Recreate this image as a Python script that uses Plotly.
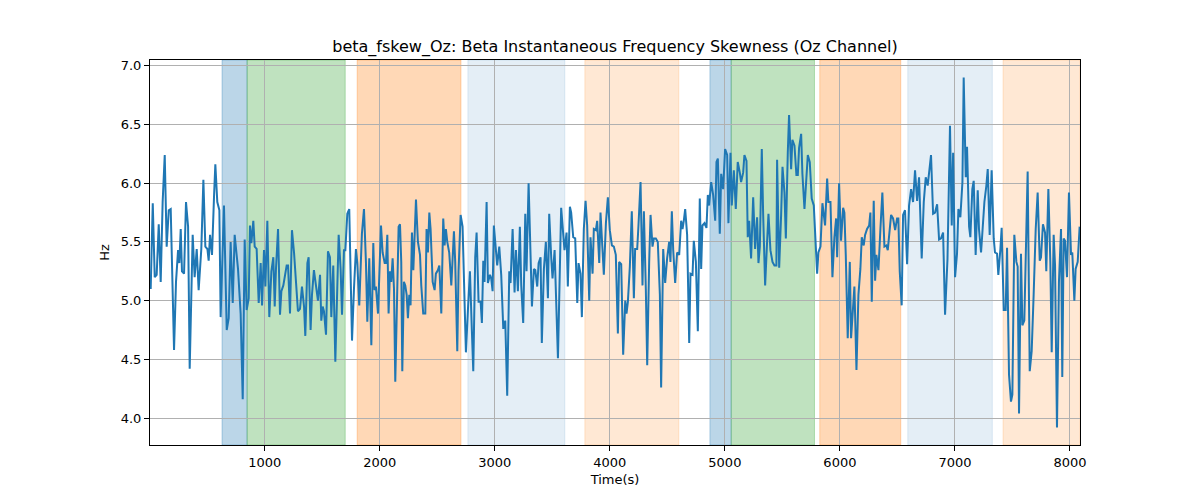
import plotly.graph_objects as go

# ---- data ----
time_s = [
    9, 27, 44, 61, 79, 96, 113, 131, 148, 166, 183, 200, 212, 229, 247, 258, 270, 281, 299, 316,
    334, 348, 374, 391, 409, 426, 449, 467, 484, 502, 513, 525, 542, 560, 571, 588, 606, 617, 646, 670,
    687, 704, 722, 739, 768, 791, 809, 826, 843, 861, 872, 884, 901, 913, 930, 948, 965,
    977, 994, 1006, 1023, 1040, 1058, 1075, 1087, 1098, 1116, 1133, 1145, 1162, 1179, 1191, 1203, 1220, 1237, 1255, 1272,
    1289, 1307, 1324, 1342, 1353, 1371, 1382, 1399, 1411, 1428, 1446, 1463, 1481, 1492, 1504, 1515, 1533, 1550, 1567, 1579,
    1596, 1614, 1643, 1660, 1672, 1689, 1701, 1718, 1735, 1759, 1776, 1793, 1805, 1822, 1845, 1863, 1880, 1892, 1909, 1927,
    1944, 1955,
    1967, 1985, 2011, 2025, 2043, 2054, 2066, 2077, 2089, 2100, 2112, 2124, 2135, 2153, 2164, 2176, 2187, 2196, 2210, 2222,
    2234, 2245, 2257, 2268, 2280, 2292, 2303, 2315, 2332, 2350, 2361, 2378, 2396, 2407, 2419, 2431, 2442, 2460, 2477, 2488,
    2506, 2518, 2535, 2552, 2564, 2575, 2587, 2604, 2622, 2645, 2656, 2674, 2685, 2703, 2720, 2749, 2767, 2784, 2801, 2813,
    2830, 2842, 2859, 2877, 2888, 2900, 2911, 2929, 2940,
    2958, 2969, 2981, 2992, 3010, 3021, 3039, 3056, 3074, 3091, 3108, 3126, 3137, 3155, 3172, 3184, 3201, 3218, 3230, 3247,
    3265, 3276, 3294, 3311, 3323, 3340, 3352, 3369, 3381, 3398, 3409, 3427, 3444, 3462, 3473, 3491, 3502, 3520, 3549, 3577,
    3595, 3606, 3624, 3635, 3653, 3664, 3682, 3699, 3717, 3728, 3745, 3757, 3774, 3789, 3803, 3821, 3832, 3850, 3861, 3879,
    3890, 3908, 3919, 3931,
    3948, 3966, 3983, 4000, 4018, 4035, 4052, 4070, 4081, 4099, 4116, 4134, 4145, 4157, 4174, 4191, 4209, 4220, 4238, 4249,
    4267, 4284, 4296, 4313, 4325, 4342, 4354, 4371, 4383, 4400, 4417, 4435, 4446, 4464, 4481, 4498, 4516, 4527, 4539, 4551,
    4568, 4585, 4603, 4620, 4632, 4643, 4655, 4672, 4690, 4701, 4719, 4730, 4748, 4765, 4782, 4794, 4805, 4823, 4840, 4852,
    4863, 4881, 4898, 4916, 4927,
    4939, 4956, 4968, 4985, 5002, 5020, 5031, 5049, 5060, 5078, 5095, 5112, 5130, 5141, 5159, 5170, 5188, 5199, 5211, 5228,
    5246, 5263, 5280, 5292, 5304, 5321, 5333, 5350, 5367, 5379, 5396, 5414, 5431, 5448, 5454, 5472, 5489, 5501, 5518, 5530,
    5547, 5558, 5576, 5587, 5605, 5622, 5634, 5645, 5663, 5674, 5692, 5703, 5721, 5738, 5755, 5773, 5790, 5802, 5813, 5831,
    5848, 5860, 5871, 5889, 5900, 5918, 5935, 5952, 5967, 5976,
    5993, 6010, 6028, 6039, 6051, 6068, 6086, 6097, 6115, 6126, 6144, 6161, 6178, 6190, 6207, 6219, 6236, 6254, 6265, 6277,
    6294, 6306, 6317, 6335, 6352, 6369, 6387, 6404, 6416, 6433, 6445, 6462, 6480, 6497, 6508, 6520, 6537, 6549, 6566, 6584,
    6601, 6619, 6636, 6653, 6671, 6688, 6711, 6729, 6746, 6763, 6781, 6792, 6810, 6827, 6845, 6862, 6879, 6897, 6914, 6935,
    6957,
    6972, 6984, 7001, 7018, 7030, 7047, 7065, 7076, 7094, 7105, 7123, 7134, 7151, 7163, 7180, 7198, 7209, 7227, 7238, 7256,
    7273, 7285, 7302, 7319, 7337, 7348, 7366, 7377, 7395, 7406, 7424, 7441, 7453, 7470, 7487, 7499, 7516, 7534, 7545, 7557,
    7574, 7586, 7603, 7615, 7632, 7650, 7667, 7684, 7702, 7719, 7737, 7748, 7765, 7783, 7794, 7812, 7829, 7841, 7858, 7870,
    7887, 7904, 7922, 7933, 7945, 7957, 7974, 7991, 8009, 8020, 8038, 8049, 8067, 8084,
]

fskew_hz = [
    5.10, 5.83, 5.20, 5.22, 5.65, 5.16, 5.84, 6.24, 5.46, 5.77, 5.78, 4.91, 4.58, 5.16, 5.43, 5.32, 5.61, 5.25, 5.23, 5.84,
    5.63, 4.42, 5.56, 5.20, 5.44, 5.09, 5.44, 6.03, 5.46, 5.44, 5.34, 5.56, 5.39, 5.90, 6.16, 5.84, 5.77, 4.86, 5.81, 4.75,
    4.85, 5.50, 4.98, 5.56, 5.27, 4.89, 4.16, 5.52, 4.92, 5.02, 5.64, 5.49, 5.68, 5.46, 5.44, 4.98, 5.32,
    4.96, 5.43, 5.12, 5.68, 4.86, 5.25, 5.37, 4.95, 5.27, 5.61, 4.88, 5.08, 5.13, 5.22, 5.30, 5.30, 4.89, 5.60, 5.41, 5.16,
    4.91, 4.93, 5.12, 4.95, 4.70, 5.32, 5.37, 4.75, 5.05, 5.26, 5.10, 5.00, 5.22, 4.83, 4.95, 4.91, 4.71, 5.42, 5.37, 4.86,
    5.30, 4.48, 5.56, 5.27, 4.88, 5.43, 5.43, 5.74, 5.78, 4.66, 5.10, 5.44, 5.32, 4.96, 5.57, 5.78, 5.33, 4.82, 5.36, 4.62,
    5.49, 5.09,
    5.12, 4.89, 5.64, 5.41, 5.32, 5.32, 5.56, 4.89, 5.25, 5.16, 5.36, 5.10, 4.31, 5.10, 5.63, 5.65, 5.33, 4.40, 5.16, 5.13,
    5.05, 4.85, 5.05, 4.96, 5.58, 5.26, 5.53, 5.86, 5.50, 5.39, 5.13, 4.89, 4.89, 5.61, 5.41, 5.75, 5.61, 5.16, 5.09, 5.23,
    5.26, 5.30, 4.89, 5.70, 5.47, 5.61, 5.50, 5.41, 5.13, 5.59, 5.33, 4.57, 5.25, 5.73, 5.63, 4.56, 4.93, 5.25, 4.74, 4.40,
    5.37, 5.58, 4.99, 4.99, 4.81, 5.34, 5.16, 5.84, 5.15,
    5.22, 5.19, 5.08, 5.64, 5.41, 5.30, 5.46, 5.22, 4.76, 4.83, 4.19, 5.25, 5.15, 5.61, 5.07, 5.43, 5.08, 5.63, 5.13, 4.81,
    5.74, 5.25, 6.00, 5.33, 4.95, 5.27, 5.26, 5.12, 5.32, 5.37, 4.64, 5.27, 5.50, 5.02, 5.74, 5.36, 5.19, 5.43, 4.51, 5.79,
    5.51, 5.43, 5.58, 5.12, 5.80, 5.75, 5.54, 5.53, 4.98, 5.32, 5.23, 4.86, 5.61, 5.85, 5.64, 5.00, 5.54, 5.23, 5.61, 5.60,
    5.68, 5.32, 5.75, 5.54,
    5.22, 5.66, 5.88, 5.60, 5.47, 5.46, 5.39, 4.72, 5.33, 5.31, 4.54, 5.00, 4.89, 4.99, 5.29, 5.76, 5.02, 5.44, 5.44, 5.64,
    6.01, 5.13, 5.76, 5.10, 4.45, 5.33, 5.73, 5.46, 5.53, 5.53, 5.50, 5.05, 4.26, 5.44, 5.15, 5.36, 5.50, 5.33, 5.76, 5.43,
    5.15, 5.41, 5.39, 5.68, 5.61, 5.68, 5.78, 5.56, 4.64, 5.23, 5.22, 5.51, 5.33, 4.74, 5.87, 5.27, 5.64, 5.66, 5.62, 5.90,
    5.81, 6.01, 5.90, 5.68, 6.18,
    6.21, 5.57, 6.08, 5.95, 6.29, 6.24, 5.66, 6.26, 5.81, 6.11, 5.78, 6.18, 6.09, 6.01, 6.09, 6.24, 6.19, 5.54, 5.68, 5.36,
    5.88, 5.44, 5.71, 5.32, 5.46, 6.29, 5.73, 5.13, 5.50, 5.74, 5.43, 5.33, 5.30, 5.30, 6.20, 5.28, 5.73, 6.14, 5.92, 5.53,
    6.26, 6.58, 6.12, 6.37, 6.32, 6.07, 6.07, 6.30, 6.42, 6.08, 5.78, 5.97, 6.24, 6.18, 5.87, 5.81, 5.43, 5.23, 5.41, 5.46,
    5.83, 5.70, 5.64, 6.04, 5.84, 5.84, 5.20, 5.54, 5.70, 5.37,
    6.00, 5.51, 5.79, 5.75, 5.39, 4.68, 5.33, 4.68, 4.96, 5.12, 4.41, 5.05, 5.27, 5.54, 5.47, 5.56, 5.61, 5.64, 5.75, 4.99,
    5.85, 5.17, 5.39, 5.26, 5.61, 5.92, 5.46, 5.47, 5.43, 5.61, 5.73, 5.70, 5.60, 5.70, 5.70, 5.25, 4.96, 5.73, 5.77, 5.31,
    5.81, 5.95, 5.84, 6.11, 5.85, 6.05, 5.36, 5.84, 6.05, 5.98, 6.18, 6.24, 5.74, 5.75, 5.82, 5.52, 5.53, 5.58, 4.88, 5.35,
    6.49,
    5.64, 6.26, 5.20, 5.40, 5.78, 5.71, 6.01, 6.90, 6.05, 6.31, 5.63, 5.54, 5.95, 6.02, 5.39, 5.94, 5.61, 5.41, 5.56, 5.84,
    5.98, 6.12, 5.56, 6.11, 5.53, 5.41, 5.40, 5.22, 5.44, 5.62, 4.92, 4.92, 5.45, 4.37, 4.14, 4.20, 5.56, 5.33, 5.29, 4.04,
    5.40, 4.79, 4.83, 5.47, 6.10, 4.40, 4.57, 5.05, 5.61, 5.92, 5.34, 5.37, 5.65, 5.58, 5.25, 5.95, 5.33, 4.56, 5.56, 5.30,
    3.92, 5.16, 5.61, 4.35, 5.53, 5.51, 5.20, 5.92, 5.39, 5.41, 5.00, 5.27, 5.33, 5.63,
]

span_start = [629, 847, 1804, 2766, 3783, 4870, 5055, 5825, 6590, 7418]
span_end = [847, 1700, 2706, 3609, 4600, 5055, 5779, 6529, 7325, 8084]
span_color = [
    "rgba(31,119,180,0.3)", "rgba(44,160,44,0.3)", "rgba(255,127,14,0.3)",
    "rgba(31,119,180,0.12)", "rgba(255,127,14,0.18)",
    "rgba(31,119,180,0.3)", "rgba(44,160,44,0.3)", "rgba(255,127,14,0.3)",
    "rgba(31,119,180,0.12)", "rgba(255,127,14,0.18)",
]

x_ticks = [1000, 2000, 3000, 4000, 5000, 6000, 7000, 8000]
y_ticks = [4.0, 4.5, 5.0, 5.5, 6.0, 6.5, 7.0]

fig = go.Figure()

for s, e, c in zip(span_start, span_end, span_color):
    fig.add_shape(type="rect", xref="x", yref="paper", x0=s, x1=e, y0=0, y1=1,
                  fillcolor=c, line=dict(color=c, width=1), layer="between")

fig.add_trace(go.Scatter(x=time_s, y=fskew_hz, mode="lines",
                         line=dict(color="#1f77b4", width=2), showlegend=False))

ymin, ymax = min(fskew_hz), max(fskew_hz)
pad = (ymax - ymin) * 0.05

axis_common = dict(showline=True, linecolor="black", linewidth=1, mirror=True,
                   ticks="outside", ticklen=5, tickcolor="black", tickwidth=1,
                   showgrid=True, gridcolor="#b0b0b0", gridwidth=1, zeroline=False,
                   tickfont=dict(family="DejaVu Sans", size=13, color="black"))

fig.update_xaxes(range=[time_s[0] - 6, time_s[-1] + 3], tickvals=x_ticks,
                 title=dict(text="Time(s)", font=dict(family="DejaVu Sans", size=13, color="black"), standoff=6),
                 **axis_common)
fig.update_yaxes(range=[ymin - pad, ymax + pad], tickvals=y_ticks, tickformat=".1f",
                 title=dict(text="Hz", font=dict(family="DejaVu Sans", size=13, color="black"), standoff=8),
                 **axis_common)

fig.update_layout(
    width=1200, height=500,
    margin=dict(l=142, r=128, t=52, b=63),
    plot_bgcolor="white", paper_bgcolor="white",
    title=dict(text="beta_fskew_Oz: Beta Instantaneous Frequency Skewness (Oz Channel)",
               x=(142 + 1072) / 2 / 1200, xanchor="center", y=0.913, yanchor="bottom",
               font=dict(family="DejaVu Sans", size=16, color="black")),
    font=dict(family="DejaVu Sans"),
)

fig.write_html("out.html")
